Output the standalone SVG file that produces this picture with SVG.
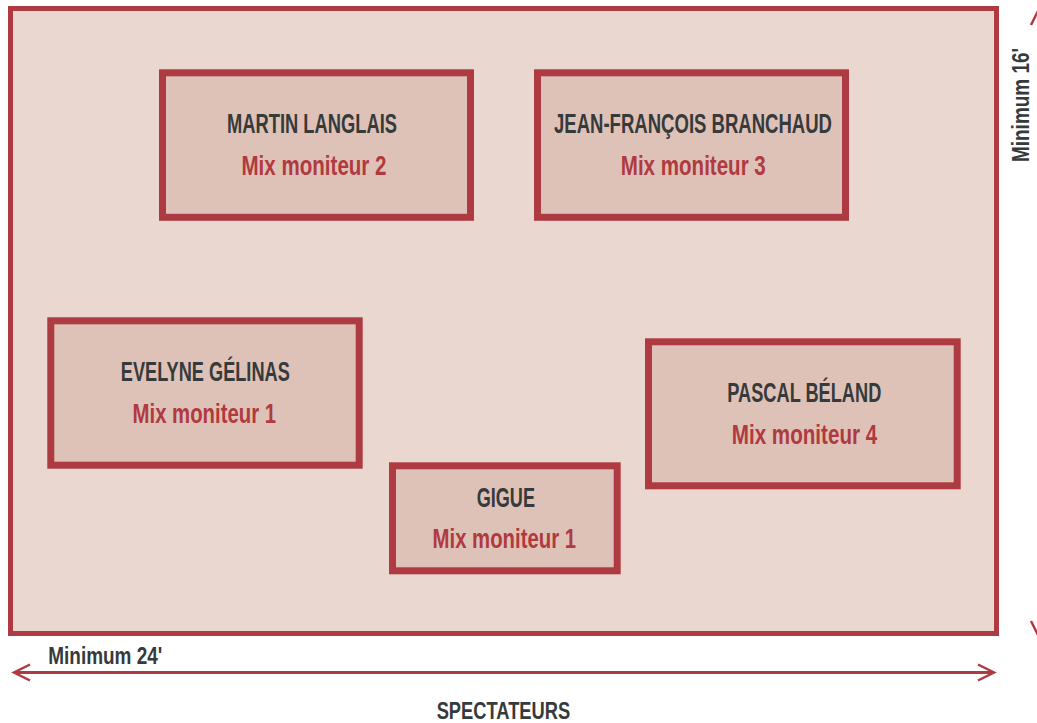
<svg xmlns="http://www.w3.org/2000/svg" width="1037" height="723" viewBox="0 0 1037 723">
<style>
.stage{fill:#e9d7d0;stroke:#ad3b41;stroke-width:5}
.box{fill:#dec2b8;stroke:#ad3b41;stroke-width:7}
.name{font-family:"Liberation Sans",Arial,sans-serif;font-weight:bold;font-size:27px;fill:#363a3b;text-anchor:middle}
.mix{font-family:"Liberation Sans",Arial,sans-serif;font-weight:bold;font-size:27px;fill:#b03a40;text-anchor:middle}
.dim{font-family:"Liberation Sans",Arial,sans-serif;font-weight:bold;font-size:23px;fill:#363a3b}
.aud{font-family:"Liberation Sans",Arial,sans-serif;font-weight:bold;font-size:24px;fill:#363a3b;text-anchor:middle}
.conn{stroke:#ad3b41;stroke-width:3;fill:none}
</style>
<defs>
<marker id="chev" markerUnits="userSpaceOnUse" markerWidth="24" markerHeight="24" viewBox="-20 -12 24 24" refX="0" refY="0" orient="auto-start-reverse" overflow="visible">
<path d="M-16,-8 L0,0 L-16,8" fill="none" stroke="#ad3b41" stroke-width="2.5"/>
</marker>
</defs>
<rect id="stage" class="stage" x="10.5" y="8.5" width="986" height="625"/>
<g id="node-martin">
<rect class="box" x="162.5" y="72.8" width="308" height="144.5"/>
<text class="name" x="312" y="133" textLength="170" lengthAdjust="spacingAndGlyphs">MARTIN LANGLAIS</text>
<text class="mix" x="314" y="175" textLength="145" lengthAdjust="spacingAndGlyphs">Mix moniteur 2</text>
</g>
<g id="node-jf">
<rect class="box" x="537.5" y="72.8" width="308" height="144.5"/>
<text class="name" x="693" y="133" textLength="278" lengthAdjust="spacingAndGlyphs">JEAN-FRANÇOIS BRANCHAUD</text>
<text class="mix" x="693.3" y="175" textLength="145" lengthAdjust="spacingAndGlyphs">Mix moniteur 3</text>
</g>
<g id="node-evelyne">
<rect class="box" x="50.8" y="320.8" width="308.4" height="144.4"/>
<text class="name" x="205.3" y="381" textLength="169" lengthAdjust="spacingAndGlyphs">EVELYNE GÉLINAS</text>
<text class="mix" x="204.3" y="423.3" textLength="143.5" lengthAdjust="spacingAndGlyphs">Mix moniteur 1</text>
</g>
<g id="node-pascal">
<rect class="box" x="648.5" y="341.8" width="308.7" height="144"/>
<text class="name" x="804.3" y="401.7" textLength="154" lengthAdjust="spacingAndGlyphs">PASCAL BÉLAND</text>
<text class="mix" x="804.5" y="444" textLength="145.5" lengthAdjust="spacingAndGlyphs">Mix moniteur 4</text>
</g>
<g id="node-gigue">
<rect class="box" x="392.5" y="465.8" width="224.7" height="105"/>
<text class="name" x="505.8" y="506.7" textLength="58.3" lengthAdjust="spacingAndGlyphs">GIGUE</text>
<text class="mix" x="504.3" y="548" textLength="143.5" lengthAdjust="spacingAndGlyphs">Mix moniteur 1</text>
</g>
<g id="connectors">
<line class="conn" x1="14" y1="672.5" x2="994" y2="672.5" marker-start="url(#chev)" marker-end="url(#chev)"/>
<line class="conn" x1="1039" y1="9" x2="1039" y2="637" marker-start="url(#chev)" marker-end="url(#chev)"/>
</g>
<text class="dim" x="48.3" y="663.5" textLength="114" lengthAdjust="spacingAndGlyphs">Minimum 24'</text>
<text class="dim" transform="translate(1029.3,162) rotate(-90)" x="0" y="0" textLength="114" lengthAdjust="spacingAndGlyphs">Minimum 16'</text>
<text class="aud" x="503.4" y="719" textLength="133.5" lengthAdjust="spacingAndGlyphs">SPECTATEURS</text>
</svg>
